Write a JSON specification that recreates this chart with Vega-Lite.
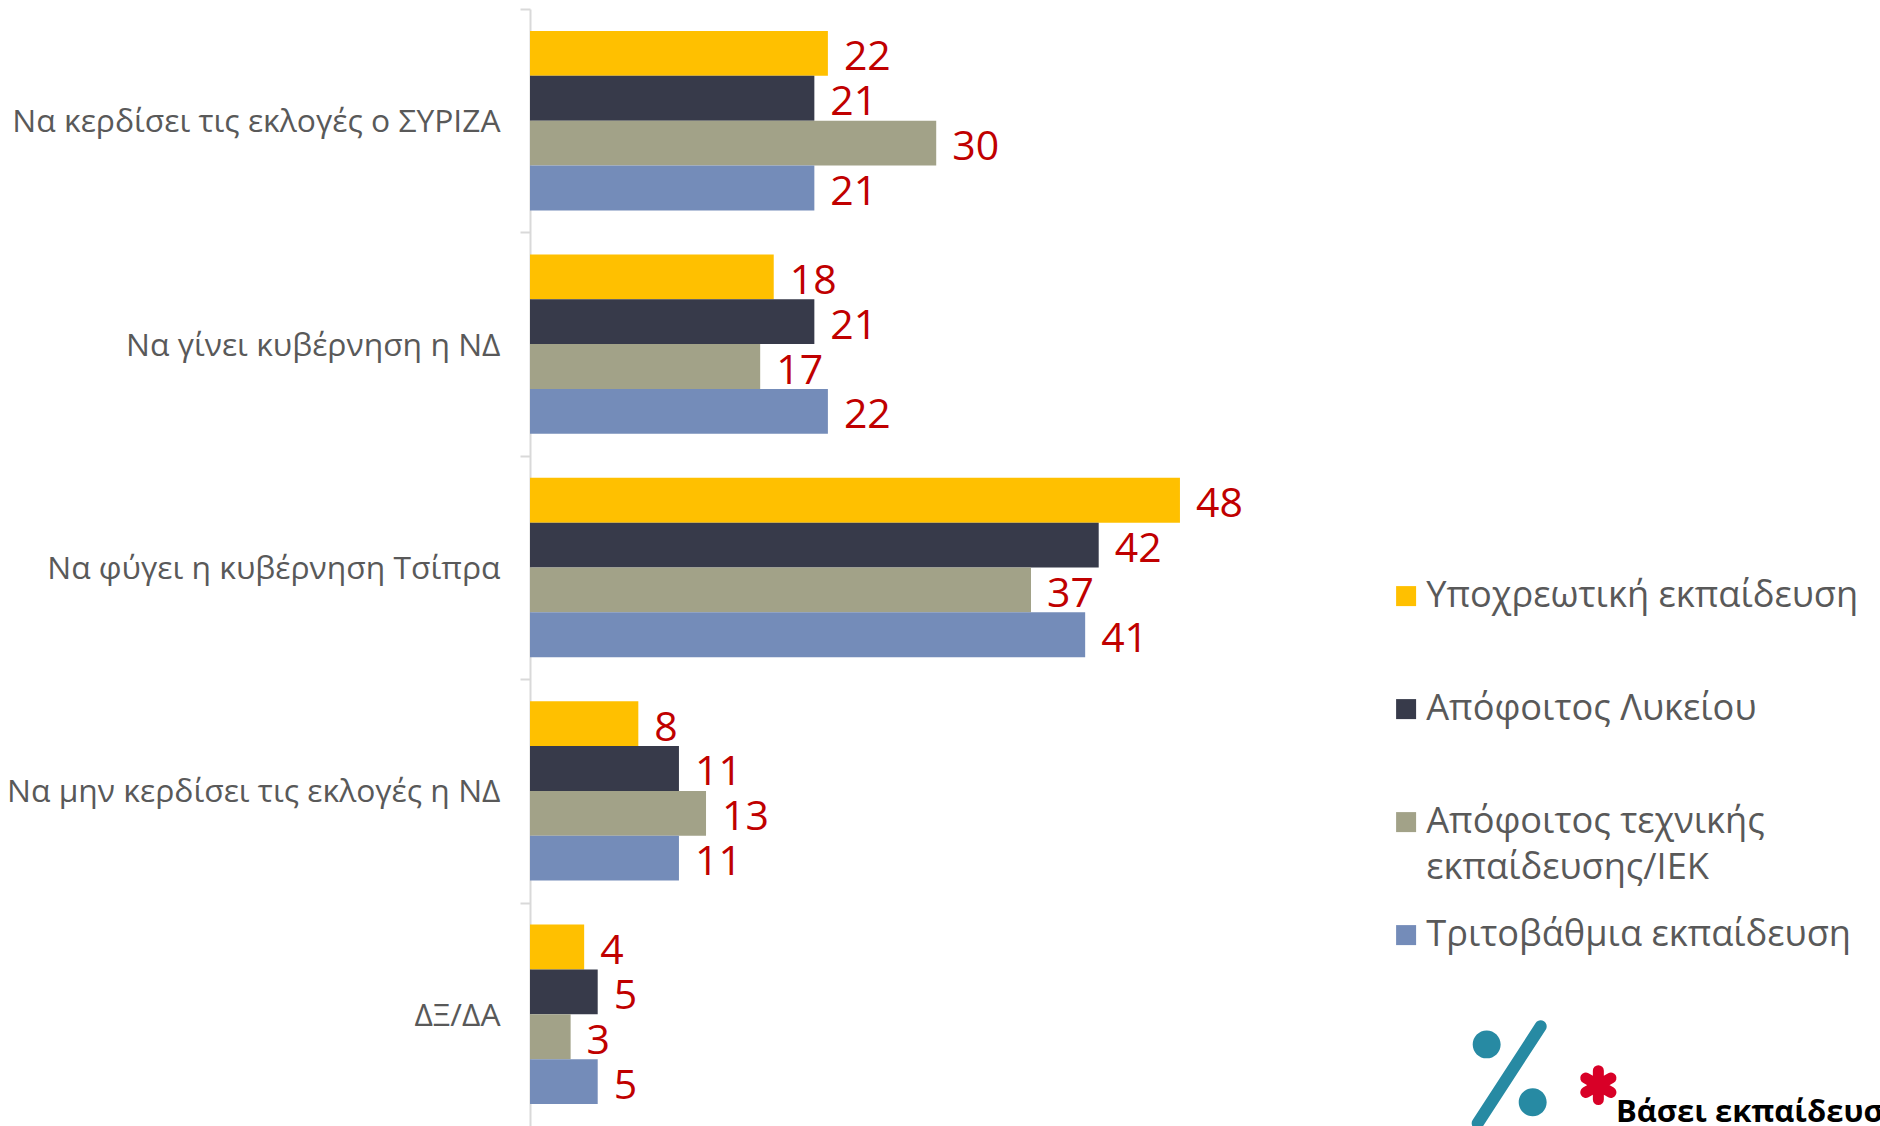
{"$schema":"https://vega.github.io/schema/vega-lite/v6.json","autosize":{"type":"none"},"padding":{"left":530,"top":9,"right":0,"bottom":0},"width":1350,"height":1117,"background":"white","config":{"view":{"stroke":null}},
"encoding":{"y":{"field":"c","type":"nominal","sort":null,"scale":{"domain":["Να κερδίσει τις εκλογές ο ΣΥΡΙΖΑ","Να γίνει κυβέρνηση η ΝΔ","Να φύγει η κυβέρνηση Τσίπρα","Να μην κερδίσει τις εκλογές η ΝΔ","ΔΞ/ΔΑ"],"paddingInner":0.197,"paddingOuter":0.0985},"axis":{"title":null,"domainColor":"#D9D9D9","domainWidth":2,"tickColor":"#D9D9D9","tickWidth":2,"bandPosition":0,"tickOffset":-22,"labelFont":"Open Sans","labelFontSize":31.8,"labelColor":"#595959","labelPadding":20,"tickSize":10,"labelLimit":600,"labelOffset":23,"grid":false}},
"x":{"field":"v","type":"quantitative","scale":{"domain":[0,99.7],"nice":false},"axis":null}},
"layer":[
{"data":{"values":[
{"c":"Να κερδίσει τις εκλογές ο ΣΥΡΙΖΑ","s":"Υποχρεωτική εκπαίδευση","v":22},{"c":"Να κερδίσει τις εκλογές ο ΣΥΡΙΖΑ","s":"Απόφοιτος Λυκείου","v":21},{"c":"Να κερδίσει τις εκλογές ο ΣΥΡΙΖΑ","s":"Απόφοιτος τεχνικής εκπαίδευσης/ΙΕΚ","v":30},{"c":"Να κερδίσει τις εκλογές ο ΣΥΡΙΖΑ","s":"Τριτοβάθμια εκπαίδευση","v":21},
{"c":"Να γίνει κυβέρνηση η ΝΔ","s":"Υποχρεωτική εκπαίδευση","v":18},{"c":"Να γίνει κυβέρνηση η ΝΔ","s":"Απόφοιτος Λυκείου","v":21},{"c":"Να γίνει κυβέρνηση η ΝΔ","s":"Απόφοιτος τεχνικής εκπαίδευσης/ΙΕΚ","v":17},{"c":"Να γίνει κυβέρνηση η ΝΔ","s":"Τριτοβάθμια εκπαίδευση","v":22},
{"c":"Να φύγει η κυβέρνηση Τσίπρα","s":"Υποχρεωτική εκπαίδευση","v":48},{"c":"Να φύγει η κυβέρνηση Τσίπρα","s":"Απόφοιτος Λυκείου","v":42},{"c":"Να φύγει η κυβέρνηση Τσίπρα","s":"Απόφοιτος τεχνικής εκπαίδευσης/ΙΕΚ","v":37},{"c":"Να φύγει η κυβέρνηση Τσίπρα","s":"Τριτοβάθμια εκπαίδευση","v":41},
{"c":"Να μην κερδίσει τις εκλογές η ΝΔ","s":"Υποχρεωτική εκπαίδευση","v":8},{"c":"Να μην κερδίσει τις εκλογές η ΝΔ","s":"Απόφοιτος Λυκείου","v":11},{"c":"Να μην κερδίσει τις εκλογές η ΝΔ","s":"Απόφοιτος τεχνικής εκπαίδευσης/ΙΕΚ","v":13},{"c":"Να μην κερδίσει τις εκλογές η ΝΔ","s":"Τριτοβάθμια εκπαίδευση","v":11},
{"c":"ΔΞ/ΔΑ","s":"Υποχρεωτική εκπαίδευση","v":4},{"c":"ΔΞ/ΔΑ","s":"Απόφοιτος Λυκείου","v":5},{"c":"ΔΞ/ΔΑ","s":"Απόφοιτος τεχνικής εκπαίδευσης/ΙΕΚ","v":3},{"c":"ΔΞ/ΔΑ","s":"Τριτοβάθμια εκπαίδευση","v":5}
]},
"encoding":{"yOffset":{"field":"s","sort":["Υποχρεωτική εκπαίδευση","Απόφοιτος Λυκείου","Απόφοιτος τεχνικής εκπαίδευσης/ΙΕΚ","Τριτοβάθμια εκπαίδευση"]}},
"layer":[{"mark":{"type":"bar","cornerRadius":0},"encoding":{"color":{"field":"s","sort":["Υποχρεωτική εκπαίδευση","Απόφοιτος Λυκείου","Απόφοιτος τεχνικής εκπαίδευσης/ΙΕΚ","Τριτοβάθμια εκπαίδευση"],"scale":{"range":["#FFC000","#373A4A","#A2A288","#748CB9"]},"legend":{"title":null,"orient":"none","legendX":858,"legendY":569,"labelFont":"Open Sans","labelFontSize":36.2,"labelColor":"#595959","symbolType":"square","symbolSize":400,"symbolStrokeWidth":0,"rowPadding":30,"labelOffset":2,"labelLimit":600,"labelExpr":"datum.label == 'Απόφοιτος τεχνικής εκπαίδευσης/ΙΕΚ' ? ['Απόφοιτος τεχνικής','εκπαίδευσης/ΙΕΚ'] : [datum.label,' ']","encoding":{"labels":{"lineHeight":{"value":46},"update":{"lineHeight":{"value":46}}}}}}}},
{"mark":{"type":"text","align":"left","dx":16,"dy":5,"font":"Open Sans","fontSize":41,"color":"#C00000"},"encoding":{"text":{"field":"v"}}}]},
{"data":{"values":[{"c":"ΔΞ/ΔΑ","v":72.5,"k":"percent"}]},"mark":{"type":"point","filled":true,"opacity":1,"color":"#278AA3","size":14400,"shape":"M -0.65 -0.533 A 0.233 0.233 0 1 0 -0.184 -0.533 A 0.233 0.233 0 1 0 -0.65 -0.533 Z M 0.117 0.433 A 0.233 0.233 0 1 0 0.583 0.433 A 0.233 0.233 0 1 0 0.117 0.433 Z M 0.399 -0.888 L -0.651 0.728 A 0.1 0.1 0 0 0 -0.483 0.838 L 0.567 -0.778 A 0.1 0.1 0 0 0 0.399 -0.888 Z"},"encoding":{"y":{"field":"c","type":"nominal","bandPosition":0.846}}},
{"data":{"values":[{"c":"ΔΞ/ΔΑ","v":78.9,"k":"asterisk"}]},"mark":{"type":"point","filled":false,"opacity":1,"color":"#D80027","size":1300,"strokeWidth":11,"strokeCap":"round","shape":"M 0 -0.8 L 0 0.8 M -0.7 -0.4 L 0.7 0.4 M -0.7 0.4 L 0.7 -0.4"},"encoding":{"y":{"field":"c","type":"nominal","bandPosition":0.895}}},
{"data":{"values":[{"c":"ΔΞ/ΔΑ","v":80.2,"t":"Βάσει εκπαίδευσης"}]},"mark":{"type":"text","align":"left","baseline":"alphabetic","font":"Open Sans","fontWeight":"bold","fontSize":31,"color":"#000000"},"encoding":{"y":{"field":"c","type":"nominal","bandPosition":1.1},"text":{"field":"t"}}}
]}
